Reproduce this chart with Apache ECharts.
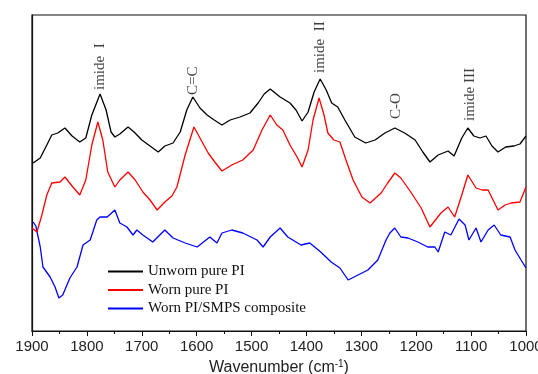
<!DOCTYPE html>
<html>
<head>
<meta charset="utf-8">
<script src="https://cdn.jsdelivr.net/npm/echarts@6/dist/echarts.min.js"></script>
<style>html,body{margin:0;padding:0;background:#fff}#c{width:538px;height:374px}</style>
</head>
<body>
<div id="c"></div>
<script>
// Wavenumber (cm-1) and relative absorbance (arbitrary units, offset curves)
const seriesNames = ['Unworn pure PI', 'Worn pure PI', 'Worn PI/SMPS composite'];

const unwornWn = [1898,1885,1873,1864,1853,1840,1827,1813,1802,1791,1776,1765,1756,1749,1740,1725,1714,1700,1685,1670,1658,1643,1630,1618,1607,1594,1581,1568,1554,1539,1521,1503,1488,1477,1466,1448,1430,1419,1408,1397,1386,1375,1364,1354,1343,1330,1312,1292,1275,1257,1239,1221,1202,1188,1175,1160,1142,1131,1117,1106,1095,1084,1073,1062,1051,1037,1022,1011,1000];
const unwornVal = [168,173,186,196,198,203,195,189,193,216,237,221,199,194,197,204,199,191,185,179,185,188,199,221,234,223,216,211,206,211,214,218,228,237,242,234,228,221,210,219,239,252,241,228,224,211,194,188,191,198,203,198,191,179,169,176,180,175,193,203,195,193,195,185,179,184,185,187,195];

const wornWn = [1900,1891,1882,1873,1864,1849,1840,1827,1813,1802,1791,1780,1771,1762,1749,1740,1725,1712,1698,1685,1672,1658,1645,1636,1621,1605,1592,1579,1567,1554,1536,1516,1497,1481,1466,1454,1443,1430,1417,1408,1397,1388,1377,1368,1361,1350,1339,1328,1315,1299,1284,1264,1252,1239,1228,1210,1191,1175,1155,1142,1130,1117,1106,1091,1080,1069,1051,1038,1027,1011,1000];
const wornVal = [103,99,116,136,148,149,154,145,136,151,186,209,191,159,144,151,159,151,139,131,121,129,135,144,176,204,191,178,169,160,166,171,181,201,216,206,201,186,174,164,181,211,233,216,198,191,189,171,151,134,128,138,148,158,153,139,123,104,118,124,114,136,156,143,141,141,121,126,128,129,144];

const compWn = [1898,1893,1885,1880,1867,1858,1851,1844,1831,1818,1807,1794,1782,1776,1763,1749,1740,1727,1716,1709,1698,1680,1658,1643,1621,1599,1576,1563,1554,1536,1516,1490,1479,1466,1448,1434,1410,1394,1374,1355,1339,1324,1306,1288,1270,1255,1248,1239,1228,1215,1197,1179,1166,1160,1148,1137,1122,1111,1104,1091,1082,1069,1058,1046,1029,1020,1009,1000];
const compVal = [109,105,84,64,54,44,33,36,53,64,86,91,111,114,114,121,108,104,96,101,96,89,101,93,88,84,94,88,98,101,98,91,84,94,103,94,86,88,79,69,63,51,56,61,71,91,98,103,94,93,89,84,84,79,99,96,112,106,91,103,89,101,106,96,94,81,71,63];

// Band annotations
const bandLabels = ['imide  I', 'C=C', 'imide  II', 'C-O', 'imide III'];
const bandWn = [1776, 1607, 1375, 1237, 1102];
const bandVal = [241, 236, 258, 212, 210];

const xTickMin = 1000, xTickMax = 1900, xTickStep = 100;

function pairs(xs, ys) { return xs.map((x, i) => [x, ys[i]]); }

const chart = echarts.init(document.getElementById('c'), null, {renderer: 'canvas'});
const lineColors = ['#000000', '#ff0000', '#0000ff'];
const lineData = [pairs(unwornWn, unwornVal), pairs(wornWn, wornVal), pairs(compWn, compVal)];

const series = seriesNames.map((n, i) => ({
  name: n, type: 'line', data: lineData[i], showSymbol: false, symbol: 'none',
  lineStyle: {color: lineColors[i], width: 1.3}, itemStyle: {color: lineColors[i]}, z: 3 - i
}));
series.push({
  name: 'bands', type: 'scatter', silent: true, symbolSize: 0,
  data: bandWn.map((w, i) => ({value: [w, bandVal[i]], name: bandLabels[i]})),
  label: {
    show: true, formatter: p => p.name, rotate: 90, position: [0, 0],
    align: 'left', verticalAlign: 'middle',
    fontFamily: '"Liberation Serif", "Times New Roman", serif', fontSize: 15, color: '#111'
  }
});

chart.setOption({
  animation: false,
  backgroundColor: '#fff',
  grid: {left: 32, right: 12, top: 15, bottom: 43, show: true, borderColor: '#111', borderWidth: 1.2,
    containLabel: false, outerBoundsMode: 'none'},
  legend: {
    data: seriesNames, orient: 'vertical', left: 108, top: 264, itemGap: 3.5, padding: 0,
    itemWidth: 35, itemHeight: 2, icon: 'rect',
    textStyle: {fontFamily: '"Liberation Serif", "Times New Roman", serif', fontSize: 15, color: '#111'}
  },
  xAxis: {
    type: 'value', min: xTickMin, max: xTickMax, interval: xTickStep, inverse: true,
    name: 'Wavenumber (cm{sup|-1})', nameLocation: 'middle', nameGap: 23,
    nameTextStyle: {fontFamily: '"Liberation Sans", Arial, sans-serif', fontSize: 16, color: '#222',
      rich: {sup: {fontSize: 10, verticalAlign: 'top', padding: [0, 0, 8, 0], fontFamily: '"Liberation Sans", Arial, sans-serif', color: '#222'}}},
    axisLine: {lineStyle: {color: '#111', width: 1.2}},
    axisTick: {show: true, inside: false, length: 5, lineStyle: {color: '#111'}},
    minorTick: {show: true, splitNumber: 2, length: 3, lineStyle: {color: '#111'}},
    axisLabel: {fontFamily: '"Liberation Sans", Arial, sans-serif', fontSize: 15, color: '#222', margin: 8,
      formatter: v => String(v), hideOverlap: false, showMinLabel: true, showMaxLabel: true},
    splitLine: {show: false}
  },
  yAxis: {
    type: 'value', min: 0, max: 316,
    axisLine: {show: true, lineStyle: {color: '#111', width: 1.2}},
    axisTick: {show: false}, axisLabel: {show: false}, splitLine: {show: false}
  },
  series: series
});
</script>
</body>
</html>
